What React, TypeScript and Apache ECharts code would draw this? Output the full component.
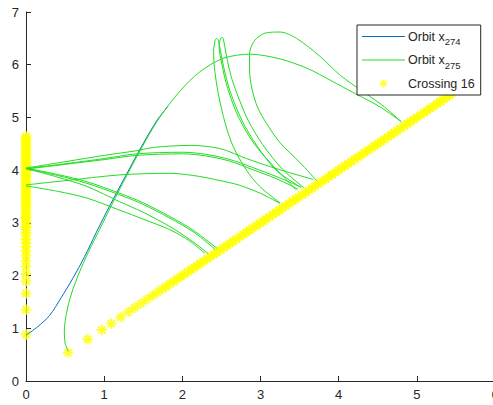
import React, { useEffect, useRef } from 'react';
import * as echarts from 'echarts';

// Axis ticks
const xTicks = [0, 1, 2, 3, 4, 5, 6];
const yTicks = [0, 1, 2, 3, 4, 5, 6, 7];

// Legend names
const nameBlue = 'Orbit x274';
const nameGreen = 'Orbit x275';
const nameCross = 'Crossing 16';

// Orbit x274 (blue)
const orbit274: [number, number][] = [
  [0, 0.87], [0.15, 1.03], [0.3, 1.24], [0.45, 1.58], [0.6, 1.95], [0.75, 2.36],
  [0.9, 2.82], [1.07, 3.32], [1.26, 3.85], [1.46, 4.4], [1.67, 4.93], [1.82, 5.22],
];

// Orbit x275 (green) pieces
const arcA: [number, number][] = [
  [0.54, 0.56], [0.5, 0.72], [0.49, 0.95], [0.52, 1.3], [0.58, 1.65], [0.68, 2.05],
  [0.8, 2.45], [0.94, 2.87], [1.1, 3.35], [1.29, 3.9], [1.49, 4.45], [1.7, 4.98],
  [1.97, 5.5], [2.22, 5.86], [2.52, 6.12], [2.87, 6.2], [3.25, 6.11], [3.6, 5.93],
  [3.9, 5.7], [4.2, 5.46], [4.53, 5.2], [4.8, 4.92],
];
const arcB: [number, number][] = [
  [3.72, 3.8], [3.5, 4.15], [3.25, 4.52], [3.08, 4.88], [2.96, 5.2], [2.89, 5.55],
  [2.86, 5.9], [2.86, 6.2], [2.92, 6.45], [3.06, 6.6], [3.25, 6.62], [3.46, 6.5],
  [3.76, 6.16], [4.02, 5.8], [4.3, 5.5], [4.55, 5.24], [4.8, 4.92],
];
const top1: [number, number][] = [
  [0, 4.04], [0.5, 4.16], [1.0, 4.28], [1.42, 4.37], [1.63, 4.43], [2.1, 4.47],
  [2.48, 4.41], [2.82, 4.22], [3.2, 4.03], [3.68, 3.82],
];
const top2: [number, number][] = [
  [0, 4.03], [0.5, 4.12], [1.0, 4.22], [1.42, 4.31], [2.0, 4.34], [2.3, 4.3],
  [2.61, 4.2], [2.9, 4.05], [3.2, 3.88], [3.52, 3.68],
];
const top3: [number, number][] = [
  [0, 4.02], [0.5, 4.11], [1.0, 4.2], [1.42, 4.28], [2.0, 4.31], [2.3, 4.27],
  [2.61, 4.17], [2.9, 4.01], [3.2, 3.84], [3.48, 3.64],
];
const mid1: [number, number][] = [
  [0, 3.72], [0.5, 3.8], [1.2, 3.91], [1.84, 3.94], [2.22, 3.88], [2.61, 3.76],
  [2.74, 3.71], [3.0, 3.56], [3.25, 3.37],
];
const down1: [number, number][] = [
  [0, 4.04], [0.4, 3.92], [0.78, 3.78], [1.2, 3.56], [1.5, 3.38], [1.84, 3.12],
  [2.15, 2.85], [2.44, 2.52],
];
const down2: [number, number][] = [
  [0, 4.03], [0.4, 3.9], [0.78, 3.75], [1.2, 3.53], [1.5, 3.35], [1.84, 3.09],
  [2.15, 2.82], [2.42, 2.5],
];
const down3: [number, number][] = [
  [0, 4.03], [0.4, 3.87], [0.78, 3.69], [1.2, 3.4], [1.5, 3.2], [1.84, 2.93],
  [2.1, 2.68], [2.33, 2.42],
];
const down4: [number, number][] = [
  [0, 3.7], [0.4, 3.6], [0.78, 3.47], [1.2, 3.24], [1.5, 3.07], [1.84, 2.87],
  [2.1, 2.65], [2.29, 2.42],
];
const spike1: [number, number][] = [
  [3.25, 3.38], [2.99, 3.69], [2.82, 4.0], [2.65, 4.45], [2.55, 4.88], [2.46, 5.45],
  [2.41, 5.95], [2.4, 6.25], [2.42, 6.46], [2.44, 6.5], [2.46, 6.46], [2.49, 6.25],
  [2.53, 5.95], [2.61, 5.5], [2.76, 4.95], [2.96, 4.45], [3.2, 4.0], [3.52, 3.67],
];
const spike2: [number, number][] = [
  [3.46, 3.62], [3.2, 4.02], [2.92, 4.5], [2.72, 5.0], [2.58, 5.55], [2.5, 6.05],
  [2.47, 6.35], [2.49, 6.5], [2.51, 6.52], [2.53, 6.45], [2.56, 6.2], [2.62, 5.8],
  [2.7, 5.45], [2.84, 4.95], [3.03, 4.48], [3.28, 4.02], [3.56, 3.66],
];
const orbit275Pieces = [arcA, arcB, top1, top2, top3, mid1, down1, down2, down3, down4, spike1, spike2];

// Crossing 16: points on the left edge (x = 0), y values
const crossLeftY = [
  0.88, 1.35, 1.66, 1.89, 2.03, 2.17, 2.28, 2.38, 2.47, 2.55, 2.62, 2.69, 2.75, 2.81,
  2.87, 2.92, 2.97, 3.02, 3.07, 3.11, 3.16, 3.2, 3.25, 3.29, 3.33, 3.37, 3.41, 3.45,
  3.49, 3.53, 3.57, 3.61, 3.65, 3.69, 3.73, 3.77, 3.81, 3.85, 3.89, 3.93, 3.97, 4.01,
  4.05, 4.09, 4.13, 4.17, 4.21, 4.25, 4.29, 4.33, 4.37, 4.41, 4.45, 4.49, 4.53, 4.57,
  4.61, 4.64,
];
// Crossing 16: points on the diagonal (x = y)
const crossDiag = [
  0.54, 0.79, 0.97, 1.09, 1.21, 1.31, 1.39, 1.47, 1.55, 1.62, 1.68, 1.74, 1.79, 1.84,
  1.89, 1.94, 1.98, 2.02, 2.07, 2.11, 2.15, 2.19, 2.23, 2.27, 2.32, 2.36, 2.4, 2.44,
  2.48, 2.53, 2.57, 2.61, 2.65, 2.69, 2.74, 2.78, 2.82, 2.86, 2.9, 2.95, 2.99, 3.03,
  3.07, 3.11, 3.16, 3.2, 3.24, 3.28, 3.32, 3.37, 3.41, 3.45, 3.49, 3.53, 3.58, 3.62,
  3.66, 3.7, 3.74, 3.79, 3.83, 3.87, 3.91, 3.95, 4.0, 4.04, 4.08, 4.12, 4.16, 4.21,
  4.25, 4.29, 4.33, 4.37, 4.42, 4.46, 4.5, 4.54, 4.58, 4.63, 4.67, 4.71, 4.75, 4.79,
  4.84, 4.88, 4.92, 4.96, 5.0, 5.05, 5.09, 5.13, 5.17, 5.21, 5.26, 5.3, 5.34, 5.38,
  5.42, 5.46,
];

const crossPoints: [number, number][] = [
  ...crossLeftY.map((y) => [0, y] as [number, number]),
  ...crossDiag.map((v) => [v, v] as [number, number]),
];

const ASTERISK = 'path://M5,0L5,10M0,5L10,5M1.6,1.6L8.4,8.4M1.6,8.4L8.4,1.6';
const LINE_ICON = 'path://M0,0H43V1.1H0Z';
const FONT = 'Liberation Sans, Arial, Helvetica, sans-serif';
const AXIS_COLOR = '#262626';
const BLUE = '#0072BD';
const GREEN = '#22dd22';
const YELLOW = '#ffff00';

const subs: Record<string, string> = { [nameBlue]: '274', [nameGreen]: '275' };

export default function App() {
  const ref = useRef<HTMLDivElement>(null);
  useEffect(() => {
    const chart = echarts.init(ref.current!, null, { renderer: 'svg' });
    const greenSeries = orbit275Pieces.map((seg) => ({
      type: 'line',
      name: nameGreen,
      data: seg,
      symbol: 'none',
      smooth: 0.3,
      lineStyle: { color: GREEN, width: 1 },
      itemStyle: { color: GREEN },
      silent: true,
    }));
    chart.setOption({
      animation: false,
      backgroundColor: '#ffffff',
      grid: { left: 26, top: 12, width: 469, height: 369, containLabel: false, outerBoundsMode: 'none' },
      xAxis: {
        type: 'value',
        min: xTicks[0],
        max: xTicks[xTicks.length - 1],
        interval: 1,
        axisLine: { show: true, onZero: false, lineStyle: { color: AXIS_COLOR, width: 1 } },
        axisTick: { show: true, inside: true, length: 5, lineStyle: { color: AXIS_COLOR } },
        axisLabel: { color: AXIS_COLOR, fontSize: 13, fontFamily: FONT, margin: 7, showMaxLabel: true },
        splitLine: { show: false },
      },
      yAxis: {
        type: 'value',
        min: yTicks[0],
        max: yTicks[yTicks.length - 1],
        interval: 1,
        axisLine: { show: true, onZero: false, lineStyle: { color: AXIS_COLOR, width: 1 } },
        axisTick: { show: true, inside: true, length: 5, lineStyle: { color: AXIS_COLOR } },
        axisLabel: { color: AXIS_COLOR, fontSize: 13, fontFamily: FONT, margin: 7 },
        splitLine: { show: false },
      },
      legend: {
        orient: 'vertical',
        left: 357,
        top: 25,
        width: 125,
        padding: [5, 6, 5, 5],
        itemGap: 7,
        itemWidth: 43,
        itemHeight: 8,
        symbolKeepAspect: true,
        borderColor: AXIS_COLOR,
        borderWidth: 1,
        borderRadius: 0,
        backgroundColor: '#ffffff',
        data: [
          { name: nameBlue, icon: LINE_ICON, itemStyle: { color: BLUE, borderWidth: 0 } },
          { name: nameGreen, icon: LINE_ICON, itemStyle: { color: GREEN, borderWidth: 0 } },
          { name: nameCross, icon: ASTERISK, itemStyle: { color: YELLOW, borderColor: YELLOW, borderWidth: 1.5 } },
        ],
        formatter: (name: string) =>
          subs[name] ? `{n|Orbit x}{s|${subs[name]}}` : `{n|${name}}`,
        textStyle: {
          color: AXIS_COLOR,
          fontFamily: FONT,
          fontSize: 12,
          padding: [0, 0, 0, -2],
          rich: {
            n: { fontSize: 12.5, fontFamily: FONT, color: AXIS_COLOR },
            s: { fontSize: 9.5, fontFamily: FONT, color: AXIS_COLOR, padding: [10, 0, 0, 0] },
          },
        },
      },
      series: [
        {
          type: 'line',
          name: nameBlue,
          data: orbit274,
          symbol: 'none',
          smooth: 0.3,
          lineStyle: { color: BLUE, width: 1 },
          itemStyle: { color: BLUE },
          silent: true,
        },
        ...greenSeries,
        {
          type: 'scatter',
          name: nameCross,
          data: crossPoints,
          symbol: ASTERISK,
          symbolSize: 10.5,
          itemStyle: { color: YELLOW, borderColor: YELLOW, borderWidth: 2 },
          silent: true,
        },
      ],
    });
    return () => chart.dispose();
  }, []);
  return (
    <div
      ref={ref}
      style={{ position: 'fixed', left: 0, top: 0, width: 493, height: 405, background: '#fff' }}
    />
  );
}
